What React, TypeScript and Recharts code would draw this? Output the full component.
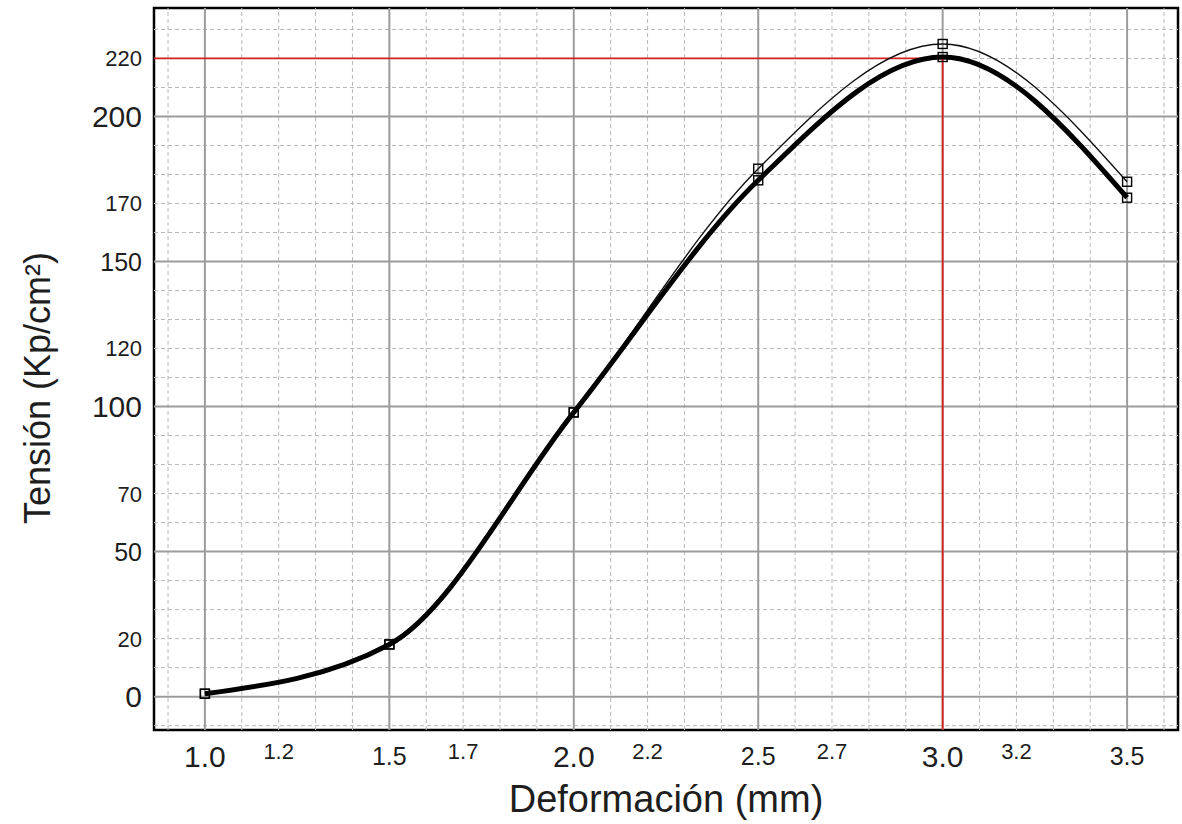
import { LineChart, Line, XAxis, YAxis, ReferenceLine, ReferenceArea, Label } from "recharts";

// Deformación (mm) at each measured point
const deformacion = [1.0, 1.5, 2.0, 2.5, 3.0, 3.5];
// Tensión (Kp/cm²): thick curve and thin curve
const tensionGruesa = [1, 18, 98, 178, 220.5, 172];
const tensionFina = [1, 18, 98, 182, 225, 177.5];

const xTicks = [1.0, 1.2, 1.5, 1.7, 2.0, 2.2, 2.5, 2.7, 3.0, 3.2, 3.5];
const yTicks = [0, 20, 50, 70, 100, 120, 150, 170, 200, 220];

const xMajor = [1.0, 1.5, 2.0, 2.5, 3.0, 3.5];
const xMinor = [0.9, 1.1, 1.2, 1.3, 1.4, 1.6, 1.7, 1.8, 1.9, 2.1, 2.2, 2.3, 2.4, 2.6, 2.7, 2.8, 2.9, 3.1, 3.2, 3.3, 3.4, 3.6];
const yMajor = [0, 50, 100, 150, 200];
const yMinor = [-10, 10, 20, 30, 40, 60, 70, 80, 90, 110, 120, 130, 140, 160, 170, 180, 190, 210, 220, 230];

const peakX = 3.0;
const peakY = 220;

const X_DOMAIN: [number, number] = [0.862, 3.638];
const Y_DOMAIN: [number, number] = [-11.5, 237.4];

const data = deformacion.map((x, i) => ({ x, gruesa: tensionGruesa[i], fina: tensionFina[i] }));

const FONT = "'Liberation Sans', Arial, Helvetica, sans-serif";
const TEXT = "#1e1e1e";

function sizeFor(v: number) {
  const r = Math.round(v * 10);
  if (r % 10 === 0) return { size: 30, dy: 37 };
  if (r % 5 === 0) return { size: 25, dy: 35 };
  return { size: 22, dy: 29 };
}

function XTick(props: any) {
  const { x, y, payload } = props;
  const s = sizeFor(payload.value);
  return (
    <text x={x} y={y + s.dy} textAnchor="middle" fontSize={s.size} fontFamily={FONT} fill={TEXT}>
      {Number(payload.value).toFixed(1)}
    </text>
  );
}

function YTick(props: any) {
  const { x, y, payload } = props;
  const v = payload.value;
  const size = v % 100 === 0 ? 30 : v % 50 === 0 ? 25 : 22;
  return (
    <text x={x} y={y} dy="0.36em" textAnchor="end" fontSize={size} fontFamily={FONT} fill={TEXT}>
      {v}
    </text>
  );
}

function YTitle(props: any) {
  const vb = props.viewBox || { x: 0, y: 8, width: 154, height: 722 };
  const cx = vb.x + 37;
  const cy = vb.y + vb.height / 2 + 19;
  return (
    <text
      x={cx}
      y={cy}
      transform={`rotate(-90 ${cx} ${cy})`}
      textAnchor="middle"
      dominantBaseline="central"
      fontSize={36}
      fontFamily={FONT}
      fill={TEXT}
    >
      Tensión (Kp/cm²)
    </text>
  );
}

function SquareDot(props: any) {
  const { cx, cy } = props;
  if (cx == null || cy == null) return null;
  return <rect x={cx - 4.5} y={cy - 4.5} width={9} height={9} fill="none" stroke="#000" strokeWidth={1.4} />;
}

export default function App() {
  return (
    <div style={{ position: "absolute", left: 0, top: 0, width: 1182, height: 824, background: "#fff" }}>
      <LineChart width={1182} height={824} data={data} margin={{ top: 8, right: 4, left: 0, bottom: 0 }}>
        <XAxis
          dataKey="x"
          type="number"
          domain={X_DOMAIN}
          ticks={xTicks}
          allowDataOverflow
          height={94}
          tickLine={false}
          axisLine={false}
          tickSize={0}
          tickMargin={0}
          tick={<XTick />}
          interval={0}
          label={{ value: "Deformación (mm)", position: "insideBottom", offset: 12, fontSize: 38, fontFamily: FONT, fill: TEXT }}
        />
        <YAxis
          type="number"
          domain={Y_DOMAIN}
          ticks={yTicks}
          allowDataOverflow
          width={154}
          tickLine={false}
          axisLine={false}
          tickSize={0}
          tickMargin={12}
          tick={<YTick />}
          interval={0}
        >
          <Label content={<YTitle />} />
        </YAxis>

        {xMinor.map((v) => (
          <ReferenceLine key={`xm-${v}`} x={v} stroke="#b8b8b8" strokeWidth={1} strokeDasharray="4 3" />
        ))}
        {yMinor.map((v) => (
          <ReferenceLine key={`ym-${v}`} y={v} stroke="#b8b8b8" strokeWidth={1} strokeDasharray="4 3" />
        ))}
        {xMajor.map((v) => (
          <ReferenceLine key={`xM-${v}`} x={v} stroke="#9c9c9c" strokeWidth={2} />
        ))}
        {yMajor.map((v) => (
          <ReferenceLine key={`yM-${v}`} y={v} stroke="#9c9c9c" strokeWidth={2} />
        ))}

        <ReferenceLine
          segment={[{ x: X_DOMAIN[0], y: peakY }, { x: peakX, y: peakY }]}
          stroke="#d42020"
          strokeWidth={1.8}
        />
        <ReferenceLine
          segment={[{ x: peakX, y: peakY }, { x: peakX, y: Y_DOMAIN[0] }]}
          stroke="#d42020"
          strokeWidth={1.8}
        />

        <Line
          dataKey="fina"
          type="monotone"
          stroke="#111"
          strokeWidth={1.4}
          dot={<SquareDot />}
          activeDot={false}
          isAnimationActive={false}
        />
        <Line
          dataKey="gruesa"
          type="monotone"
          stroke="#000"
          strokeWidth={5}
          dot={<SquareDot />}
          activeDot={false}
          isAnimationActive={false}
        />

        <ReferenceArea
          x1={X_DOMAIN[0]}
          x2={X_DOMAIN[1]}
          y1={Y_DOMAIN[0]}
          y2={Y_DOMAIN[1]}
          fill="none"
          fillOpacity={0}
          stroke="#000"
          strokeWidth={2.5}
        />
      </LineChart>
    </div>
  );
}
